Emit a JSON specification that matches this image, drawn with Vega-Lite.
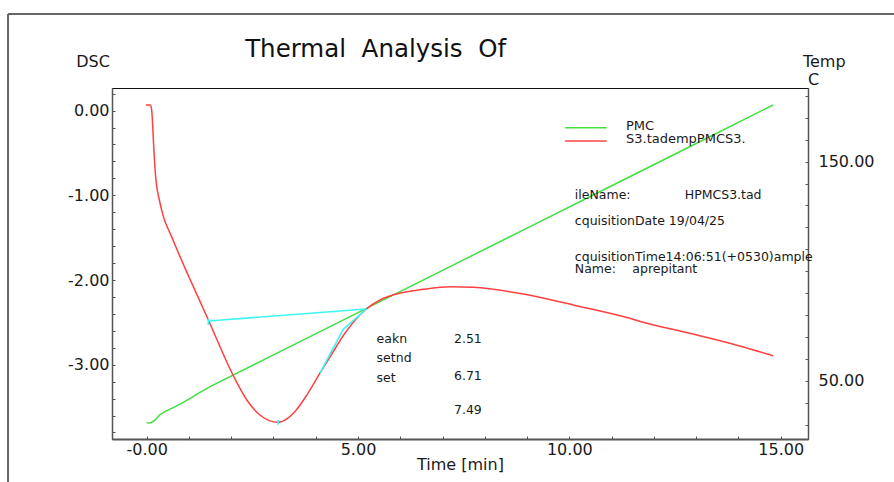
{
  "$schema": "https://vega.github.io/schema/vega-lite/v6.json",
  "width": 696,
  "height": 351,
  "autosize": {"type": "none"},
  "padding": {"left": 112, "top": 88, "right": 86, "bottom": 43},
  "background": "white",
  "config": {
    "font": "DejaVu Sans",
    "view": {"stroke": "#111111", "strokeWidth": 1},
    "axis": {
      "grid": false,
      "labelFont": "DejaVu Sans",
      "titleFont": "DejaVu Sans",
      "labelFontSize": 16,
      "titleFontSize": 16,
      "titleFontWeight": "normal",
      "labelColor": "#1a1a1a",
      "titleColor": "#1a1a1a",
      "domainColor": "#555555",
      "tickColor": "#555555",
      "tickWidth": 1,
      "labelOverlap": false,
      "labelFlush": false
    },
    "text": {"font": "DejaVu Sans", "color": "#1a1a1a"}
  },
  "datasets": {
    "temp": [
      {"t": 0, "temp": 30.7}, {"t": 0.1, "temp": 30.8}, {"t": 0.2, "temp": 32.0},
      {"t": 0.31, "temp": 34.4}, {"t": 0.45, "temp": 36.1}, {"t": 0.63, "temp": 37.7},
      {"t": 0.8, "temp": 39.4}, {"t": 1.0, "temp": 41.6}, {"t": 1.2, "temp": 44.0},
      {"t": 1.5, "temp": 47.3}, {"t": 3, "temp": 61.8}, {"t": 5, "temp": 81.1},
      {"t": 7, "temp": 100.4}, {"t": 9, "temp": 119.7}, {"t": 11, "temp": 139.0},
      {"t": 13, "temp": 158.3}, {"t": 14.82, "temp": 175.9}
    ],
    "dsc": [
      {"t": -0.02, "dsc": 0.066}, {"t": 0.09, "dsc": 0.066}, {"t": 0.12, "dsc": 0.0},
      {"t": 0.14, "dsc": -0.15}, {"t": 0.16, "dsc": -0.36}, {"t": 0.18, "dsc": -0.544},
      {"t": 0.22, "dsc": -0.82}, {"t": 0.26, "dsc": -0.96}, {"t": 0.30, "dsc": -1.055},
      {"t": 0.35, "dsc": -1.165}, {"t": 0.39, "dsc": -1.24}, {"t": 0.45, "dsc": -1.33},
      {"t": 0.52, "dsc": -1.41}, {"t": 0.6, "dsc": -1.5}, {"t": 0.7, "dsc": -1.62},
      {"t": 0.98, "dsc": -1.94}, {"t": 1.46, "dsc": -2.472}, {"t": 2.05, "dsc": -3.13},
      {"t": 2.37, "dsc": -3.417}, {"t": 2.68, "dsc": -3.594}, {"t": 2.9, "dsc": -3.66},
      {"t": 3.11, "dsc": -3.68}, {"t": 3.3, "dsc": -3.645}, {"t": 3.5, "dsc": -3.558},
      {"t": 3.79, "dsc": -3.358}, {"t": 4.10, "dsc": -3.10}, {"t": 4.34, "dsc": -2.906},
      {"t": 4.69, "dsc": -2.629}, {"t": 4.97, "dsc": -2.452}, {"t": 5.20, "dsc": -2.342},
      {"t": 5.52, "dsc": -2.236}, {"t": 5.91, "dsc": -2.165}, {"t": 6.54, "dsc": -2.11},
      {"t": 7.18, "dsc": -2.079}, {"t": 7.73, "dsc": -2.086}, {"t": 8.91, "dsc": -2.165},
      {"t": 10.09, "dsc": -2.295}, {"t": 11.43, "dsc": -2.452}, {"t": 11.7, "dsc": -2.492},
      {"t": 12.85, "dsc": -2.629}, {"t": 14.03, "dsc": -2.779}, {"t": 14.82, "dsc": -2.894}
    ],
    "cyan": [
      {"seg": "base", "t": 1.457, "dsc": -2.484}, {"seg": "base", "t": 5.20, "dsc": -2.342},
      {"seg": "tangent", "t": 4.10, "dsc": -3.10}, {"seg": "tangent", "t": 4.65, "dsc": -2.582},
      {"seg": "tangent", "t": 5.20, "dsc": -2.342},
      {"seg": "tick1", "t": 1.457, "dsc": -2.46}, {"seg": "tick1", "t": 1.458, "dsc": -2.53},
      {"seg": "tick2", "t": 3.11, "dsc": -3.65}, {"seg": "tick2", "t": 3.111, "dsc": -3.71}
    ],
    "notes": [
      {"t": 5.44, "dsc": -2.691, "label": "eakn"},
      {"t": 7.27, "dsc": -2.691, "label": "2.51"},
      {"t": 5.44, "dsc": -2.915, "label": "setnd"},
      {"t": 5.44, "dsc": -3.151, "label": "set"},
      {"t": 7.27, "dsc": -3.133, "label": "6.71"},
      {"t": 7.27, "dsc": -3.531, "label": "7.49"},
      {"t": 10.13, "dsc": -0.991, "label": "ileName:"},
      {"t": 12.73, "dsc": -0.991, "label": "HPMCS3.tad"},
      {"t": 10.13, "dsc": -1.303, "label": "cquisitionDate 19/04/25"},
      {"t": 10.13, "dsc": -1.727, "label": "cquisitionTime14:06:51(+0530)ample"},
      {"t": 10.13, "dsc": -1.868, "label": "Name:"},
      {"t": 11.49, "dsc": -1.868, "label": "aprepitant"}
    ],
    "legendText": [
      {"t": 11.34, "dsc": -0.18, "label": "PMC"},
      {"t": 11.34, "dsc": -0.334, "label": "S3.tadempPMCS3."}
    ],
    "legendLines": [
      {"t": 9.9, "t2": 10.88, "dsc": -0.202, "series": "PMC"},
      {"t": 9.9, "t2": 10.88, "dsc": -0.359, "series": "S3.tadempPMCS3."}
    ],
    "title": [
      {"t": 2.33, "dsc": 0.629, "label": "Thermal\u00a0 Analysis\u00a0 Of"}
    ],
    "unit": [
      {"t": 15.646, "dsc": 0.302, "label": "C"}
    ],
    "frame": [
      {"t": -3.28, "t2": -3.28, "dsc": 1.14, "dsc2": -4.6},
      {"t": -3.28, "t2": 18.5, "dsc": 1.14, "dsc2": 1.14}
    ]
  },
  "encoding": {
    "x": {
      "field": "t",
      "type": "quantitative",
      "scale": {"domain": [-0.82, 15.646], "nice": false, "zero": false},
      "axis": {
        "title": "Time [min]",
        "values": [0, 1, 2, 3, 4, 5, 6, 7, 8, 9, 10, 11, 12, 13, 14, 15],
        "labelExpr": "datum.value == 0 ? '-0.00' : (datum.value % 5 == 0 ? format(datum.value, '.2f') : '')",
        "tickSize": -3,
        "labelPadding": 5.5,
        "domainWidth": 2,
        "titleBaseline": "alphabetic",
        "titleY": 30
      }
    }
  },
  "layer": [
    {
      "data": {"name": "temp"},
      "mark": {"type": "line", "color": "#40e040", "strokeWidth": 1.5},
      "encoding": {
        "y": {
          "field": "temp",
          "type": "quantitative",
          "scale": {"domain": [23.38, 183.65], "nice": false, "zero": false},
          "axis": {
            "orient": "right",
            "title": "Temp",
            "titleAngle": 0,
            "titleAlign": "left",
            "titleBaseline": "alphabetic",
            "titleX": -5.6,
            "titleY": -21.6,
            "values": [30, 40, 50, 60, 70, 80, 90, 100, 110, 120, 130, 140, 150, 160, 170, 180],
            "labelExpr": "(datum.value == 50 || datum.value == 150) ? format(datum.value, '.2f') : ''",
            "tickSize": -3,
            "labelPadding": 13,
            "domainWidth": 1.5
          }
        }
      }
    },
    {
      "encoding": {
        "y": {
          "field": "dsc",
          "type": "quantitative",
          "scale": {"domain": [-3.877, 0.267], "nice": false, "zero": false},
          "axis": {
            "orient": "left",
            "title": "DSC",
            "titleAngle": 0,
            "titleAlign": "left",
            "titleBaseline": "alphabetic",
            "titleX": -36.3,
            "titleY": -21.8,
            "values": [0.2, 0, -0.2, -0.4, -0.6, -0.8, -1, -1.2, -1.4, -1.6, -1.8, -2, -2.2, -2.4, -2.6, -2.8, -3, -3.2, -3.4, -3.6, -3.8],
            "labelExpr": "abs(datum.value - round(datum.value)) < 0.001 ? (datum.value == 0 ? '0.00' : '-' + format(abs(datum.value), '.2f')) : ''",
            "tickSize": -3,
            "labelPadding": 6,
            "domainWidth": 1.5
          }
        }
      },
      "layer": [
        {
          "data": {"name": "frame"},
          "mark": {"type": "rule", "color": "#666666", "strokeWidth": 2},
          "encoding": {"x2": {"field": "t2"}, "y2": {"field": "dsc2"}}
        },
        {
          "data": {"name": "dsc"},
          "mark": {"type": "line", "color": "#ff4040", "strokeWidth": 1.5, "interpolate": "monotone"}
        },
        {
          "data": {"name": "cyan"},
          "mark": {"type": "line", "color": "#40f4f4", "strokeWidth": 1.6},
          "encoding": {"detail": {"field": "seg", "type": "nominal"}}
        },
        {
          "data": {"name": "legendLines"},
          "mark": {"type": "rule", "strokeWidth": 1.5},
          "encoding": {
            "x2": {"field": "t2"},
            "color": {
              "field": "series",
              "type": "nominal",
              "scale": {"domain": ["PMC", "S3.tadempPMCS3."], "range": ["#40e040", "#ff4040"]},
              "legend": null
            }
          }
        },
        {
          "data": {"name": "notes"},
          "mark": {"type": "text", "align": "left", "baseline": "middle", "fontSize": 12.5},
          "encoding": {"text": {"field": "label"}}
        },
        {
          "data": {"name": "legendText"},
          "mark": {"type": "text", "align": "left", "baseline": "middle", "fontSize": 13},
          "encoding": {"text": {"field": "label"}}
        },
        {
          "data": {"name": "unit"},
          "mark": {"type": "text", "align": "left", "baseline": "alphabetic", "fontSize": 16},
          "encoding": {"text": {"field": "label"}}
        },
        {
          "data": {"name": "title"},
          "mark": {"type": "text", "align": "left", "baseline": "alphabetic", "fontSize": 24.5, "color": "#111111"},
          "encoding": {"text": {"field": "label"}}
        }
      ]
    }
  ],
  "resolve": {"scale": {"y": "independent"}, "axis": {"y": "independent"}}
}
